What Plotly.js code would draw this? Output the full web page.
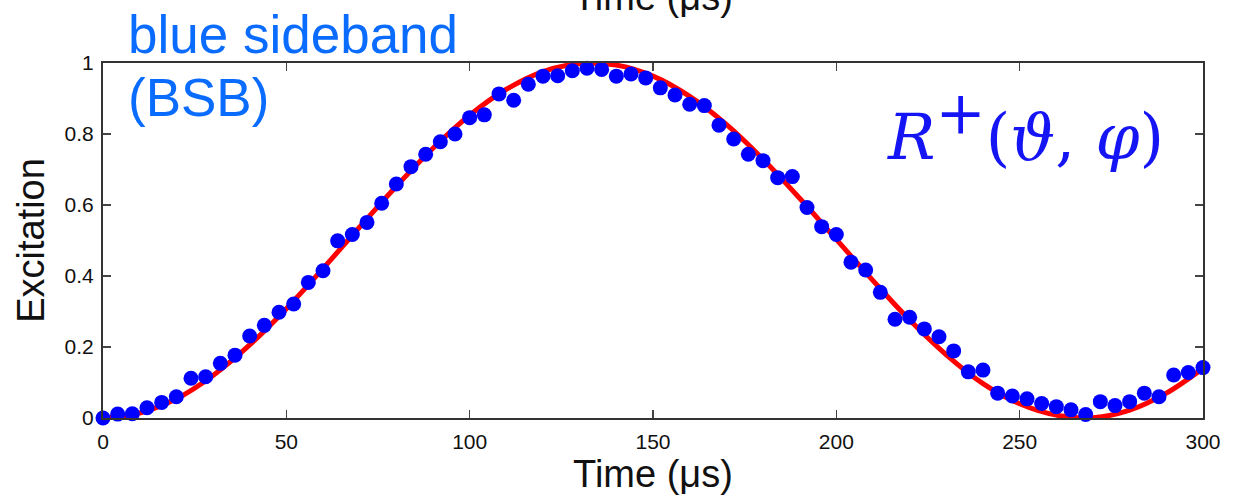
<!DOCTYPE html>
<html>
<head>
<meta charset="utf-8">
<script src="https://cdn.plot.ly/plotly-3.0.1.min.js"></script>
<style>html,body{margin:0;padding:0;background:#fff;}#chart{width:1240px;height:497px;}</style>
</head>
<body>
<div id="chart"></div>
<script>
// Measured data: time (μs) and excitation
const timeUs = [0,4,8,12,16,20,24,28,32,36,40,44,48,52,56,60,64,68,72,76,80,84,88,92,96,100,104,108,112,116,120,124,128,132,136,140,144,148,152,156,160,164,168,172,176,180,184,188,192,196,200,204,208,212,216,220,224,228,232,236,240,244,248,252,256,260,264,268,272,276,280,284,288,292,296,300];
const excitation = [0.000,0.011,0.012,0.029,0.044,0.060,0.112,0.116,0.154,0.177,0.231,0.261,0.298,0.321,0.382,0.415,0.499,0.517,0.551,0.605,0.659,0.708,0.743,0.778,0.800,0.846,0.854,0.913,0.895,0.940,0.963,0.964,0.978,0.985,0.982,0.963,0.969,0.958,0.930,0.910,0.884,0.880,0.825,0.786,0.743,0.725,0.677,0.680,0.593,0.539,0.517,0.439,0.417,0.354,0.278,0.284,0.251,0.229,0.189,0.130,0.135,0.070,0.062,0.054,0.041,0.032,0.023,0.010,0.046,0.035,0.046,0.070,0.060,0.121,0.128,0.142];

// Fit curve
const fitTime = [0,10,20,30,40,50,60,70,80,90,100,110,120,130,140,150,160,170,180,190,200,210,220,230,240,250,260,270,280,290,300];
const fitExcitation = [0.000,0.014,0.054,0.120,0.206,0.308,0.421,0.538,0.653,0.760,0.853,0.926,0.976,0.998,0.994,0.963,0.906,0.827,0.729,0.619,0.503,0.387,0.276,0.178,0.097,0.040,0.008,0.001,0.022,0.070,0.140];

const xTicks = [0,50,100,150,200,250,300];
const yTicks = [0,0.2,0.4,0.6,0.8,1];
const yTickText = ['0','0.2','0.4','0.6','0.8','1'];

const sans = 'Liberation Sans, Arial, Helvetica, sans-serif';

const traces = [
  {x: fitTime, y: fitExcitation, mode: 'lines', type: 'scatter',
   line: {color: '#ff0000', width: 5, shape: 'spline'}, cliponaxis: false, hoverinfo: 'skip'},
  {x: timeUs, y: excitation, mode: 'markers', type: 'scatter',
   marker: {color: '#0000ff', size: 15, line: {width: 0}}, cliponaxis: false}
];

const axisCommon = {
  ticks: 'inside', ticklen: 8, tickwidth: 1.5, tickcolor: '#444',
  showline: true, linecolor: '#333', linewidth: 2, mirror: 'ticks',
  showgrid: false, zeroline: false,
  tickfont: {family: sans, size: 21, color: '#111'}
};

const layout = {
  width: 1240, height: 497,
  margin: {l: 103, r: 37, t: 63, b: 79},
  paper_bgcolor: '#fff', plot_bgcolor: '#fff',
  showlegend: false,
  xaxis: Object.assign({}, axisCommon, {
    range: [0, 300], tickvals: xTicks, ticklabelstandoff: 4,
    title: {text: 'Time (μs)', font: {family: sans, size: 38, color: '#111'}, standoff: 2}
  }),
  yaxis: Object.assign({}, axisCommon, {
    range: [0, 1], tickvals: yTicks, ticktext: yTickText, ticklabelstandoff: 3,
    title: {text: 'Excitation', font: {family: sans, size: 38, color: '#111'}, standoff: 8}
  }),
  annotations: [
    {text: 'Time (μs)', xref: 'paper', yref: 'paper', x: 0.5, y: 1.186,
     xanchor: 'center', yanchor: 'middle', showarrow: false,
     font: {family: sans, size: 38, color: '#111'}},
    {text: 'blue sideband', xref: 'paper', yref: 'paper', x: 0.0209, y: 1.0806,
     xanchor: 'left', yanchor: 'middle', showarrow: false,
     font: {family: sans, size: 53, color: '#0a6cff'}},
    {text: '(BSB)', xref: 'paper', yref: 'paper', x: 0.0209, y: 0.903,
     xanchor: 'left', yanchor: 'middle', showarrow: false,
     font: {family: sans, size: 53, color: '#0a6cff'}},
    {text: '<i>R</i><sup><span style="font-size:60px">+</span></sup>(<i>ϑ</i>, <i>φ</i>)', xref: 'paper', yref: 'paper', x: 0.711, y: 0.823,
     xanchor: 'left', yanchor: 'middle', showarrow: false,
     font: {family: 'DejaVu Serif, Liberation Serif, serif', size: 63, color: '#1414f5'}}
  ]
};

Plotly.newPlot('chart', traces, layout, {displayModeBar: false, staticPlot: true});
</script>
</body>
</html>
